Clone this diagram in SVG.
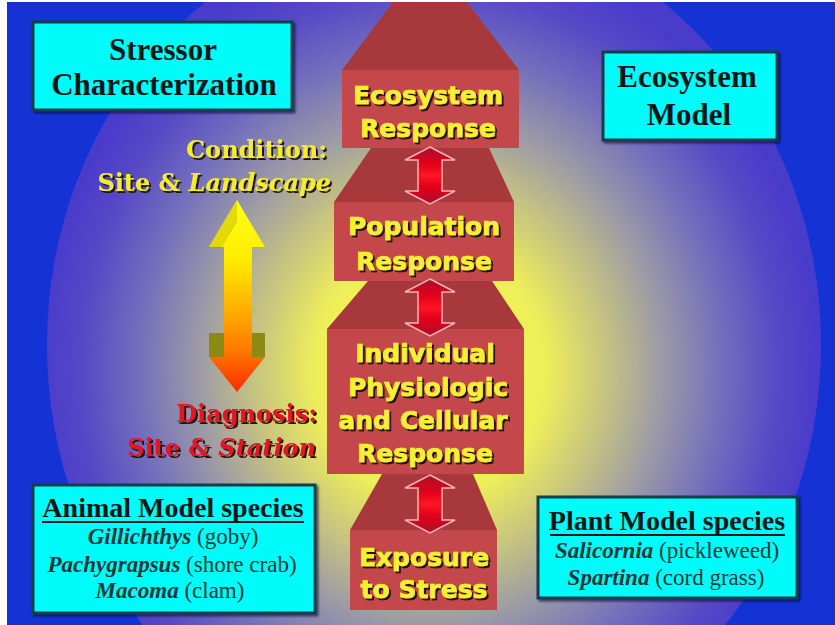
<svg xmlns="http://www.w3.org/2000/svg" width="835" height="625" viewBox="0 0 835 625">
<defs>
  <clipPath id="bgclip"><rect x="7" y="2" width="828" height="623"/></clipPath>
  <radialGradient id="glow" cx="0.495" cy="0.53" r="0.5">
    <stop offset="0" stop-color="#f8f84c"/>
    <stop offset="0.3" stop-color="#eeee5a"/>
    <stop offset="0.46" stop-color="#c4c282"/>
    <stop offset="0.6" stop-color="#9c9aa6"/>
    <stop offset="0.75" stop-color="#7470bc"/>
    <stop offset="0.9" stop-color="#5748c6"/>
    <stop offset="1" stop-color="#4a3ccb"/>
  </radialGradient>
  <linearGradient id="redArrow" x1="0" y1="0" x2="0" y2="1">
    <stop offset="0" stop-color="#a8102a"/>
    <stop offset="0.3" stop-color="#e4001a"/>
    <stop offset="0.5" stop-color="#ff1424"/>
    <stop offset="0.7" stop-color="#e4001a"/>
    <stop offset="1" stop-color="#a8102a"/>
  </linearGradient>
  <linearGradient id="scaleGrad" gradientUnits="userSpaceOnUse" x1="0" y1="200" x2="0" y2="392">
    <stop offset="0" stop-color="#ffff18"/>
    <stop offset="0.3" stop-color="#ffee00"/>
    <stop offset="0.55" stop-color="#ffb400"/>
    <stop offset="0.78" stop-color="#ff7a00"/>
    <stop offset="1" stop-color="#ff2a00"/>
  </linearGradient>
  <filter id="shadow" x="-10%" y="-20%" width="120%" height="150%">
    <feDropShadow dx="2" dy="2" stdDeviation="0.5" flood-color="#1a1000" flood-opacity="0.95"/>
  </filter>
  <filter id="boxshadow" x="-5%" y="-5%" width="115%" height="115%">
    <feDropShadow dx="2" dy="2" stdDeviation="1" flood-color="#000030" flood-opacity="0.6"/>
  </filter>
  <style>
    .roof { fill: #a7393d; }
    .block { fill: #c4474b; }
    .ytxt { font-family: "DejaVu Sans", Verdana, sans-serif; font-weight: bold; font-size: 25px; fill: #f6f034; stroke: #f6f034; stroke-width: 0.7; text-anchor: middle; filter: url(#shadow); }
    .cyan { fill: #00fbfb; stroke: #173c48; stroke-width: 3; filter: url(#boxshadow); }
    .btitle { font-family: "Liberation Serif", "Times New Roman", serif; font-weight: bold; font-size: 31px; fill: #0c1818; text-anchor: middle; }
    .stitle { font-family: "Liberation Serif", "Times New Roman", serif; font-weight: bold; font-size: 28px; fill: #0c1818; text-anchor: middle; }
    .sp { font-family: "Liberation Serif", "Times New Roman", serif; font-size: 23px; fill: #173838; text-anchor: middle; }
    .sp .g { font-weight: bold; font-style: italic; }
    .ul { stroke: #0c1818; stroke-width: 2; }
    .side { font-family: "DejaVu Serif", "Liberation Serif", serif; font-weight: bold; font-size: 24px; text-anchor: end; filter: url(#shadow); }
    .cond { fill: #f4ee2c; }
    .diag { fill: #e41626; }
    .it { font-style: italic; }
    .dbl { fill: url(#redArrow); stroke: #f4b4b4; stroke-width: 1.5; }
  </style>
</defs>

<rect x="0" y="0" width="835" height="625" fill="#ffffff"/>
<g clip-path="url(#bgclip)">
  <rect x="7" y="2" width="828" height="623" fill="#1533d4"/>
  <ellipse cx="434" cy="345" rx="387" ry="425" fill="url(#glow)"/>
</g>

<g id="ecosystem-response">
  <polygon class="roof" points="393,2 467,2 519,70 342,70"/>
  <rect class="block" x="342" y="70" width="177" height="78"/>
  <text class="ytxt" x="428" y="104">Ecosystem</text>
  <text class="ytxt" x="428" y="137">Response</text>
</g>

<g id="population-response">
  <polygon class="roof" points="371,148 489,148 514,202 334,202"/>
  <rect class="block" x="334" y="202" width="180" height="79"/>
  <text class="ytxt" x="424" y="235">Population</text>
  <text class="ytxt" x="424" y="270">Response</text>
</g>

<g id="individual-response">
  <polygon class="roof" points="368,281 492,281 524,329 327,329"/>
  <rect class="block" x="327" y="329" width="197" height="145"/>
  <text class="ytxt" x="425" y="362">Individual</text>
  <text class="ytxt" x="428" y="396">Physiologic</text>
  <text class="ytxt" x="423" y="429">and Cellular</text>
  <text class="ytxt" x="425" y="462">Response</text>
</g>

<g id="exposure">
  <polygon class="roof" points="382,474 473,474 497,530 350,530"/>
  <rect class="block" x="350" y="530" width="147" height="80"/>
  <text class="ytxt" x="424" y="566">Exposure</text>
  <text class="ytxt" x="424" y="598">to Stress</text>
</g>

<g id="connectors">
  <polygon class="dbl" points="430,147 455,160 442,160 442,191 455,191 430,204 405,191 418,191 418,160 405,160"/>
  <polygon class="dbl" points="430,279 455,292 442,292 442,323 455,323 430,336 405,323 418,323 418,292 405,292"/>
  <polygon class="dbl" points="430,475 455,488 442,488 442,520 455,520 430,533 405,520 418,520 418,488 405,488"/>
</g>

<g id="stressor-characterization">
  <rect class="cyan" x="33" y="22" width="259" height="88"/>
  <text class="btitle" x="163" y="60">Stressor</text>
  <text class="btitle" x="164" y="95">Characterization</text>
</g>

<g id="ecosystem-model">
  <rect class="cyan" x="603" y="52" width="174" height="88"/>
  <text class="btitle" x="687" y="87">Ecosystem</text>
  <text class="btitle" x="689" y="125">Model</text>
</g>

<g id="condition-label">
  <text class="side cond" x="327" y="158">Condition:</text>
  <text class="side cond" x="331" y="191">Site &amp; <tspan class="it">Landscape</tspan></text>
</g>

<g id="scale-arrow">
  <rect x="209" y="333" width="15" height="24" fill="#8c8a14"/>
  <rect x="252" y="333" width="13" height="24" fill="#8c8a14"/>
  <polygon points="237,200 265,247 252,247 252,357 265,357 237,392 209,357 224,357 224,247 209,247" fill="url(#scaleGrad)"/>
  <polygon points="237,200 209,247 222,247 237,222" fill="#d8cc08" opacity="0.7"/>
</g>

<g id="diagnosis-label">
  <text class="side diag" x="317" y="422">Diagnosis:</text>
  <text class="side diag" x="316" y="456">Site &amp; <tspan class="it">Station</tspan></text>
</g>

<g id="animal-species">
  <rect class="cyan" x="33" y="485" width="282" height="128"/>
  <text class="stitle" x="173" y="517">Animal Model species</text>
  <line class="ul" x1="42" y1="522" x2="304" y2="522"/>
  <text class="sp" x="173" y="544"><tspan class="g">Gillichthys</tspan> (goby)</text>
  <text class="sp" x="172" y="572"><tspan class="g">Pachygrapsus</tspan> (shore crab)</text>
  <text class="sp" x="170" y="598"><tspan class="g">Macoma</tspan> (clam)</text>
</g>

<g id="plant-species">
  <rect class="cyan" x="538" y="497" width="259" height="101"/>
  <text class="stitle" x="667" y="530">Plant Model species</text>
  <line class="ul" x1="550" y1="535" x2="785" y2="535"/>
  <text class="sp" x="667" y="558"><tspan class="g">Salicornia</tspan> (pickleweed)</text>
  <text class="sp" x="666" y="585"><tspan class="g">Spartina</tspan> (cord grass)</text>
</g>
</svg>
